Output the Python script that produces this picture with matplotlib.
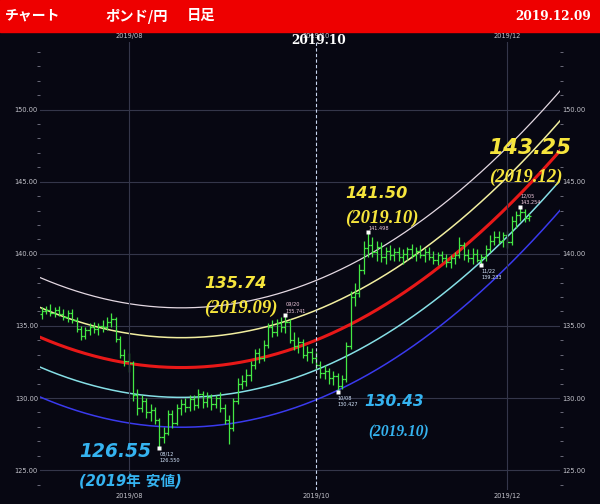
import matplotlib
matplotlib.use("Agg")
import matplotlib.pyplot as plt
from matplotlib.patches import Rectangle
from matplotlib.ticker import MultipleLocator, FormatStrFormatter
import numpy as np
import pandas as pd

plt.rcParams['font.family'] = ['DejaVu Sans', 'Noto Sans CJK JP']

# GBP/JPY daily bars, 2019-07-04 .. 2019-12-09
dates = pd.bdate_range("2019-07-04", "2019-12-09")

opens = [135.8, 136.0, 136.1, 135.9, 136.1, 135.8, 135.6, 135.9, 135.4, 134.8,
         134.3, 134.7, 134.9, 134.8, 135.0, 134.9, 135.3, 135.5, 134.1, 133.0,
         # aug
         132.6, 132.4, 130.2, 129.3, 129.8, 129.0, 129.2, 128.5, 127.3, 127.6,
         128.9, 128.3, 129.3, 129.6, 129.4, 129.9, 129.5, 130.3, 129.7, 130.1,
         129.6, 130.0,
         # sep
         129.3, 128.5, 127.9, 129.8, 131.0, 131.2, 131.6, 132.3, 133.1, 132.8,
         133.7, 134.9, 134.6, 135.2, 134.9, 135.3, 134.0, 133.6, 133.9, 133.0,
         133.2,
         # oct
         132.8, 132.3, 131.7, 131.9, 131.4, 131.5, 130.8, 131.3, 133.6, 137.0,
         137.3, 138.9, 140.4, 140.6, 140.1, 140.5, 139.8, 140.2, 139.9, 140.1,
         139.8, 140.0, 140.3,
         # nov
         139.9, 140.2, 139.9, 140.1, 139.8, 139.6, 139.9, 139.7, 139.4, 139.7,
         139.9, 140.6, 139.9, 139.7, 140.0, 139.6, 139.8, 140.3, 140.9, 141.2,
         140.9,
         # dec
         141.3, 140.8, 142.3, 142.7, 142.9, 142.5]

highs = [136.3, 136.4, 136.5, 136.3, 136.4, 136.2, 136.1, 136.2, 135.6, 135.0,
         134.9, 135.2, 135.3, 135.2, 135.4, 135.6, 135.9, 135.6, 134.3, 133.4,
         133.1, 132.6, 130.6, 130.2, 130.0, 129.6, 129.4, 128.6, 128.0, 129.2,
         129.2, 129.6, 129.9, 130.0, 130.2, 130.2, 130.6, 130.5, 130.4, 130.3,
         130.2, 130.4,
         129.6, 128.8, 130.0, 131.4, 131.6, 132.0, 132.6, 133.4, 133.5, 134.0,
         135.2, 135.4, 135.5, 135.6, 135.741, 135.5, 134.6, 134.2, 134.1, 133.6,
         133.5,
         133.2, 132.6, 132.3, 132.1, 131.9, 131.7, 131.6, 133.9, 137.4, 138.0,
         139.3, 140.9, 141.498, 141.2, 140.9, 140.8, 140.5, 140.6, 140.4, 140.5,
         140.3, 140.5, 140.7,
         140.5, 140.6, 140.4, 140.5, 140.2, 140.1, 140.2, 140.0, 139.9, 140.1,
         141.2, 140.8, 140.3, 140.4, 140.3, 140.0, 140.6, 141.3, 141.6, 141.6,
         141.5,
         141.6, 142.6, 143.0, 143.254, 143.1, 142.8]

lows = [135.5, 135.8, 135.7, 135.6, 135.7, 135.4, 135.3, 135.2, 134.6, 134.0,
        134.1, 134.4, 134.5, 134.4, 134.6, 134.7, 134.9, 133.9, 132.8, 132.2,
        131.8, 129.8, 128.8, 129.0, 128.6, 128.4, 128.2, 126.550, 126.9, 127.4,
        127.9, 128.1, 128.8, 129.0, 129.1, 129.2, 129.3, 129.3, 129.4, 129.2,
        129.3, 129.0,
        128.2, 126.8, 127.7, 129.6, 130.6, 130.8, 131.2, 132.0, 132.4, 132.6,
        133.5, 134.2, 134.3, 134.6, 134.5, 133.8, 133.3, 133.1, 132.8, 132.6,
        132.4,
        132.0, 131.4, 131.3, 131.0, 130.9, 130.427, 130.6, 131.1, 133.4, 136.4,
        137.0, 138.6, 139.8, 139.8, 139.5, 139.4, 139.3, 139.6, 139.5, 139.5,
        139.3, 139.6, 139.7,
        139.5, 139.7, 139.4, 139.6, 139.3, 139.2, 139.4, 139.1, 139.0, 139.3,
        139.7, 139.6, 139.4, 139.3, 139.4, 139.233, 139.5, 140.1, 140.6, 140.7,
        140.5,
        140.4, 140.6, 141.8, 142.3, 142.2, 142.3]

closes = [136.0, 136.1, 135.9, 136.1, 135.8, 135.6, 135.9, 135.4, 134.8, 134.3,
          134.7, 134.9, 134.8, 135.0, 134.9, 135.3, 135.5, 134.1, 133.0, 132.6,
          132.4, 130.2, 129.3, 129.8, 129.0, 129.2, 128.5, 127.3, 127.6, 128.9,
          128.3, 129.3, 129.6, 129.4, 129.9, 129.5, 130.3, 129.7, 130.1, 129.6,
          130.0, 129.3,
          128.5, 127.9, 129.8, 131.0, 131.2, 131.6, 132.3, 133.1, 132.8, 133.7,
          134.9, 134.6, 135.2, 134.9, 135.3, 134.0, 133.6, 133.9, 133.0, 133.2,
          132.8,
          132.3, 131.7, 131.9, 131.4, 131.5, 130.8, 131.3, 133.6, 137.0, 137.3,
          138.9, 140.4, 140.6, 140.1, 140.5, 139.8, 140.2, 139.9, 140.1, 139.8,
          140.0, 140.3, 139.9,
          140.2, 139.9, 140.1, 139.8, 139.6, 139.9, 139.7, 139.4, 139.7, 139.9,
          140.6, 139.9, 139.7, 140.0, 139.6, 139.8, 140.3, 140.9, 141.2, 140.9,
          141.3,
          140.8, 142.3, 142.7, 142.9, 142.5, 142.6]

# regression channel (centre line) at some bar positions
chan_bar = [0, 18.4, 37.9, 61.6, 71.7, 79.8, 95.9, 105.7, 118.9]
chan_mid = [134.15, 132.64, 132.0, 133.7, 135.2, 136.8, 140.4, 142.8, 147.0]
chan_step = 2.07   # distance between neighbouring channel lines

# marked highs / lows: (bar index, 'high' or 'low')
marks = [(27, 'low'), (56, 'high'), (68, 'low'), (75, 'high'), (101, 'low'), (110, 'high')]

# big call-outs: bar index, sub text
callouts = [(56, "(2019.09)"), (75, "(2019.10)"), (110, "(2019.12)"),
            (27, "(2019年 安値)"), (68, "(2019.10)")]

BG = '#070712'
GRID = '#34364a'
YEL = '#f6e53c'
BLU = '#35b3f0'

idx = np.arange(len(dates))
o = np.array(opens); h = np.array(highs); l = np.array(lows); c = np.array(closes)

fig = plt.figure(figsize=(6, 5.04), dpi=100, facecolor=BG)
ax = fig.add_axes([40/600, 1-490/504, 520/600, 448/504], facecolor=BG)

x0, x1 = -0.4, 119.1
ax.set_xlim(x0, x1)
ax.set_ylim(123.62, 154.69)

# quadratic channel through the read centre values
coef = np.polyfit(chan_bar, chan_mid, 2)
xs = np.linspace(x0, x1, 400)
mid = np.polyval(coef, xs)
ax.plot(xs, mid + 2*chan_step, color='#e4d8e2', lw=0.9)
ax.plot(xs, mid + chan_step, color='#f2eea0', lw=1.1)
ax.plot(xs, mid, color='#e81818', lw=2.2)
ax.plot(xs, mid - chan_step, color='#86dfe6', lw=1.1)
ax.plot(xs, mid - 2*chan_step, color='#3a3aee', lw=1.1)

# OHLC bars
green = '#44e844'
ax.vlines(idx, l, h, color=green, lw=0.9)
ax.hlines(o, idx - 0.5, idx, color=green, lw=0.9)
ax.hlines(c, idx, idx + 0.5, color=green, lw=0.9)

# month grid / ticks
months = [8, 10, 12]
mpos = [int(np.argmax(dates.month == m)) for m in months]
mlab = ["2019/%02d" % m for m in months]
ax.set_xticks(mpos, mlab)
for p, m in zip(mpos, months):
    if m == 10:
        ax.axvline(p, color='#c8d6f0', lw=0.8, ls=(0, (3, 2)))
    else:
        ax.axvline(p, color=GRID, lw=0.8)
ax.tick_params(axis='x', length=0, labeltop=True, labelbottom=True,
               labelsize=4.8, colors='#c4c4cc', pad=2.5)

ax.yaxis.set_major_locator(MultipleLocator(5))
ax.yaxis.set_minor_locator(MultipleLocator(1))
ax.yaxis.set_major_formatter(FormatStrFormatter('%.2f'))
ax.tick_params(axis='y', which='both', left=True, right=True,
               labelleft=True, labelright=True, labelsize=4.8,
               labelcolor='#c4c4cc', color='#7a7a8a', pad=1.5)
ax.tick_params(axis='y', which='major', length=0)
ax.tick_params(axis='y', which='minor', length=2.5, width=0.6)
ax.grid(axis='y', color=GRID, lw=0.8)
ax.set_axisbelow(True)
for s in ax.spines.values():
    s.set_visible(False)

# small markers with date / price
for i, kind in marks:
    v = h[i] if kind == 'high' else l[i]
    ax.plot(i, v, 's', ms=2.5, color='white', mec='none')
    col = '#f2cce0' if kind == 'high' else '#d6e8ff'
    if kind == 'high':
        if i != 75:
            ax.annotate(dates[i].strftime("%m/%d"), (i, v), xytext=(0, 11),
                        textcoords='offset pixels', fontsize=3.6, color=col,
                        ha='left', va='center')
        ax.annotate("%.3f" % v, (i, v), xytext=(0, 4), textcoords='offset pixels',
                    fontsize=3.6, color=col, ha='left', va='center')
    else:
        ax.annotate(dates[i].strftime("%m/%d"), (i, v), xytext=(0, -6),
                    textcoords='offset pixels', fontsize=3.6, color=col,
                    ha='left', va='center')
        ax.annotate("%.3f" % v, (i, v), xytext=(0, -13), textcoords='offset pixels',
                    fontsize=3.6, color=col, ha='left', va='center')

# big call-outs (offsets in pixels from the marked bar)
offs = {56: ((-81, 32, 11.7), (-81, 7, 13.5)),
        75: ((-23, 39, 11.6), (-23, 14, 13.5)),
        110: ((-32, 59, 15.5), (-31, 30, 13.5)),
        27: ((-80, -4, 13.4), (-80, -34, 10.5)),
        68: ((27, -10, 11.2), (31, -41, 11.2))}
for i, sub in callouts:
    kind = dict(marks)[i]
    v = h[i] if kind == 'high' else l[i]
    col = YEL if kind == 'high' else BLU
    (bx, by, bs), (sx, sy, ss) = offs[i]
    ax.annotate("%.2f" % v, (i, v), xytext=(bx, by), textcoords='offset pixels',
                fontsize=bs, color=col, fontweight='bold', fontstyle='italic',
                ha='left', va='center')
    if i == 27:
        fam = ['DejaVu Sans', 'Noto Sans CJK JP']
    else:
        fam = ['Liberation Serif']
    ax.annotate(sub, (i, v), xytext=(sx, sy), textcoords='offset pixels',
                fontsize=ss, color=col, fontweight='bold', fontstyle='italic',
                family=fam, ha='left', va='center')

# header bar
fig.add_artist(Rectangle((0, 1-32/504), 1, 32/504, transform=fig.transFigure,
                         color='#ee0000', zorder=0))
jp = ['Noto Sans CJK JP', 'DejaVu Sans']
fig.text(5/600, 1-16/504, "チャート", color='white', fontsize=10,
         fontweight='bold', family=jp, ha='left', va='center')
fig.text(105/600, 1-16/504, "ポンド/円", color='white', fontsize=10.3,
         fontweight='bold', family=jp, ha='left', va='center')
fig.text(187/600, 1-16/504, "日足", color='white', fontsize=10.3,
         fontweight='bold', family=jp, ha='left', va='center')
fig.text(591/600, 1-16/504, "2019.12.09", color='white', fontsize=8.7,
         fontweight='bold', family=['DejaVu Serif'], ha='right', va='center')
fig.text(319/600, 1-41/504, "2019.10", color='white', fontsize=8.7,
         fontweight='bold', family=['DejaVu Serif'], ha='center', va='center')

fig.savefig("out.png", dpi=100, facecolor=BG)
